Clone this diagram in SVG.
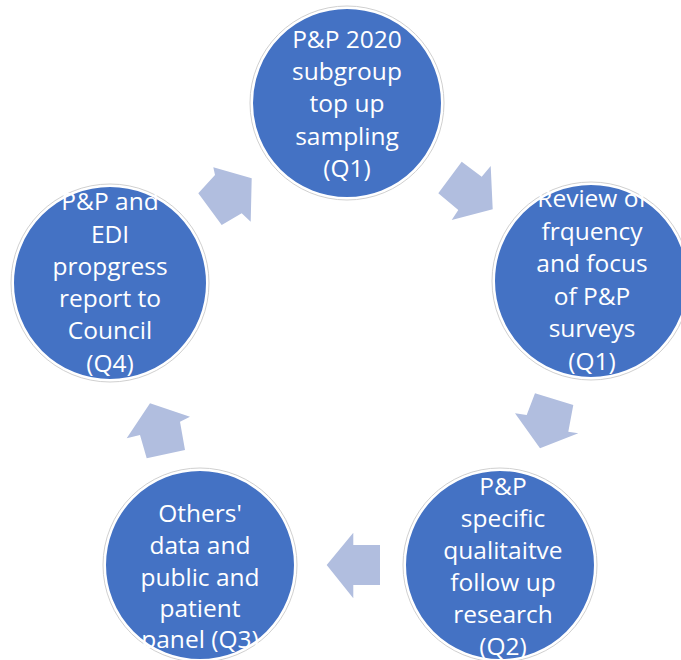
<svg xmlns="http://www.w3.org/2000/svg" width="681" height="660" viewBox="0 0 681 660">
<style>
.c{fill:#4472C4;stroke:#ffffff;stroke-width:2}
.o{fill:none;stroke:#d0d0d0;stroke-width:1}
.t{font-family:"Open Sans","Liberation Sans",sans-serif;font-size:24.5px;fill:#ffffff;text-anchor:middle}
.a{fill:#B1BEDF}
</style>
<rect width="681" height="660" fill="#ffffff"/>
<g id="connectors">
<polygon class="a" points="438.3,193.3 461.7,161.7 481.7,176.7 490.7,166 492.7,209.3 451.7,220 458.3,210"/>
<polygon class="a" points="535,393.3 573.3,405 568.3,431.7 578.3,433.3 540,448.3 515,413.3 526.7,415"/>
<polygon class="a" points="380,545 380,585 353.3,585 353.3,598.3 326.7,565 353.3,532.7 353.3,545"/>
<polygon class="a" points="185,450 146.7,458.3 140,435 126.7,438.3 150,403.3 190,416.7 180,421.7"/>
<polygon class="a" points="198.3,193.3 215,175 213.3,167.3 251.7,178.3 250.7,221.7 241.7,213.3 221.7,225"/>
</g>
<g id="n1">
<circle class="o" cx="347" cy="103" r="97"/>
<circle class="c" cx="347" cy="103" r="95"/>
<text class="t" x="347" y="48">P&amp;P 2020</text>
<text class="t" x="347" y="80">subgroup</text>
<text class="t" x="347" y="112">top up</text>
<text class="t" x="347" y="145">sampling</text>
<text class="t" x="347" y="177">(Q1)</text>
</g>
<g id="n2">
<circle class="o" cx="591" cy="281" r="99"/>
<circle class="c" cx="591" cy="281" r="97"/>
<text class="t" x="592" y="207">Review of</text>
<text class="t" x="592" y="240">frquency</text>
<text class="t" x="592" y="272">and focus</text>
<text class="t" x="592" y="305">of P&amp;P</text>
<text class="t" x="592" y="337">surveys</text>
<text class="t" x="592" y="370">(Q1)</text>
</g>
<g id="n3">
<circle class="o" cx="500" cy="565" r="97"/>
<circle class="c" cx="500" cy="565" r="95"/>
<text class="t" x="503" y="495">P&amp;P</text>
<text class="t" x="503" y="527">specific</text>
<text class="t" x="503" y="559">qualitaitve</text>
<text class="t" x="503" y="591">follow up</text>
<text class="t" x="503" y="623">research</text>
<text class="t" x="503" y="655">(Q2)</text>
</g>
<g id="n4">
<circle class="o" cx="200" cy="565" r="97"/>
<circle class="c" cx="200" cy="565" r="95"/>
<text class="t" x="200" y="522">Others'</text>
<text class="t" x="200" y="554">data and</text>
<text class="t" x="200" y="586">public and</text>
<text class="t" x="200" y="617">patient</text>
<text class="t" x="200" y="648">panel (Q3)</text>
</g>
<g id="n5">
<circle class="o" cx="110" cy="283" r="99"/>
<circle class="c" cx="110" cy="283" r="97"/>
<text class="t" x="110" y="210">P&amp;P and</text>
<text class="t" x="110" y="243">EDI</text>
<text class="t" x="110" y="275">propgress</text>
<text class="t" x="110" y="307">report to</text>
<text class="t" x="110" y="339">Council</text>
<text class="t" x="110" y="372">(Q4)</text>
</g>
</svg>
